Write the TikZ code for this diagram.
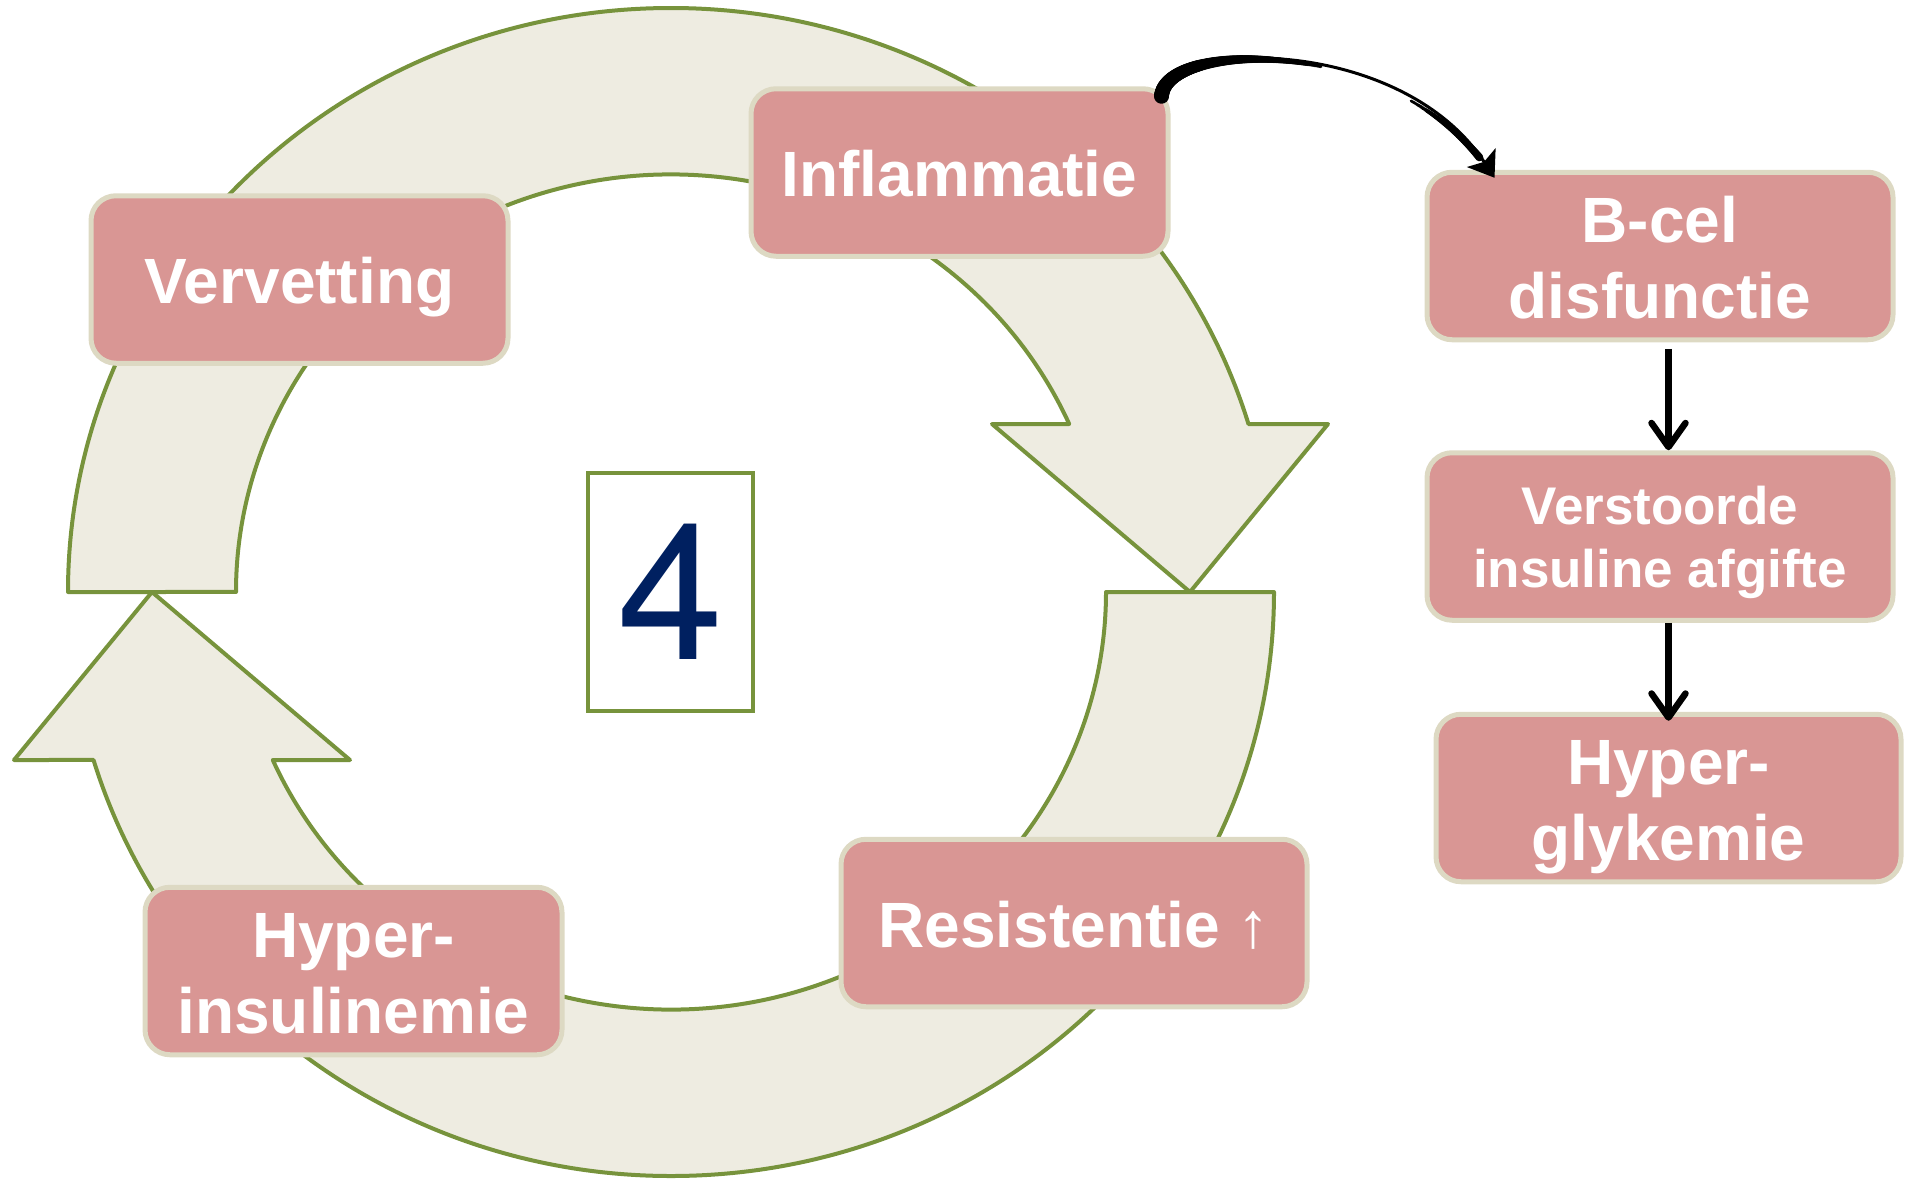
\documentclass[tikz,border=0pt]{standalone}
\usepackage{fontspec}
\setmainfont{Liberation Sans}
\newfontfamily\numfont{TeX Gyre Heros}
\usetikzlibrary{arrows.meta}
\usetikzlibrary{decorations.markings, math}
\definecolor{mygreen}{RGB}{119,147,60}
\definecolor{mybeige}{RGB}{238,236,225}
\definecolor{mypink}{RGB}{217,150,148}
\definecolor{mysand}{RGB}{221,217,195}
\definecolor{mynavy}{RGB}{0,32,96}
\newcommand{\topstrut}{\rule{0pt}{1em}}
\newcommand{\botstrut}{\rule[-.25em]{0pt}{.25em}}

\begin{document}
\begin{tikzpicture}[x=1pt, y=1pt,
  ring/.style={fill=mybeige, draw=mygreen, line width=4pt, line join=round},
  stage/.style={draw=mysand, fill=mypink, line width=5pt, rounded corners=25pt,
    text=white, align=center, inner sep=0pt, minimum width=417pt, minimum height=167.5pt,
    font=\bfseries\fontsize{64}{76}\selectfont},
  wide/.style={stage, minimum width=466pt},
  flow/.style={line width=6.5pt, -{Straight Barb[length=24pt,width=34pt,round]}},
  curvearrow/.style={line width=3pt, -{Stealth[length=24pt,width=34pt,inset=5pt]},
    postaction={decorate}, decoration={markings,
      mark=between positions 0 and 0.45 step 1pt with {\fill circle[radius={7.5pt-6pt*\pgfkeysvalueof{/pgf/decoration/mark info/distance from start}/(0.45*\pgfdecoratedpathlength)}];},
      mark=between positions 0.7 and 0.93 step 1pt with {\fill circle[radius={1.5pt+2.5pt*(\pgfkeysvalueof{/pgf/decoration/mark info/distance from start}-0.7*\pgfdecoratedpathlength)/(0.23*\pgfdecoratedpathlength)}];}}}
]
\tikzmath{
\cx=671; \cy=-592;
\Rox=603; \Roy=584;
\Rix=435; \Riy=417.5;
\Hb=168;
\Ao=asin(\Hb/\Roy);
\Ai=asin(\Hb/\Riy);
\Qi=\Rix*cos(\Ai);
}
\useasboundingbox (0,0) rectangle (1911,-1178);
%\draw[help lines, step=100] (0,0) grid (1911,-1178);

% upper arrow
\filldraw[ring] (\cx-\Rox,\cy) arc[start angle=180, end angle=\Ao, x radius=\Rox, y radius=\Roy]
  -- (\cx+657,\cy+\Hb) -- (\cx+519,\cy) -- (\cx+321,\cy+\Hb) -- (\cx+\Qi,\cy+\Hb)
  arc[start angle=\Ai, end angle=180, x radius=\Rix, y radius=\Riy] -- cycle;
% lower arrow
\filldraw[ring] (\cx+\Rox,\cy) arc[start angle=0, end angle=\Ao-180, x radius=\Rox, y radius=\Roy]
  -- (\cx-657,\cy-\Hb) -- (\cx-519,\cy) -- (\cx-321,\cy-\Hb) -- (\cx-\Qi,\cy-\Hb)
  arc[start angle=\Ai-180, end angle=0, x radius=\Rix, y radius=\Riy] -- cycle;

\node[draw=mygreen, fill=white, line width=4pt, minimum width=165pt, minimum height=238pt,
  inner sep=0pt, text=mynavy, font=\numfont\fontsize{191}{191}\selectfont] (four) at (670.5,-592) {4};

\node[stage] (verv) at (299.5,-279.5) {\topstrut Vervetting\botstrut};
\node[stage] (infl) at (959.5,-172.5) {\topstrut Inflammatie\botstrut};
\node[wide] (resi) at (1074,-923) {\topstrut Resistentie {\mdseries ↑}\botstrut};
\node[stage] (hypi) at (353.5,-971) {\topstrut Hyper-\\insulinemie\botstrut};

\node[wide] (bcel) at (1660,-256) {\topstrut B-cel\\disfunctie\botstrut};
\node[wide, font=\bfseries\fontsize{53}{63}\selectfont] (verst) at (1660,-536.5)
  {\topstrut Verstoorde\\insuline afgifte\botstrut};
\node[wide, minimum width=465pt] (hypg) at (1668.5,-798) {\topstrut Hyper-\\glykemie\botstrut};

\draw[curvearrow] ([xshift=-9pt,yshift=-10pt]infl.north east)
  .. controls +(4pt,57pt) and +(-94pt,143pt) .. ([xshift=70pt,yshift=-8pt]bcel.north west);
\draw[flow, shorten <=6.5pt] (bcel.south -| hypg.north) -- (verst.north -| hypg.north);
\draw[flow, shorten >=-9pt] (verst.south -| hypg.north) -- (hypg.north);
\end{tikzpicture}
\end{document}
